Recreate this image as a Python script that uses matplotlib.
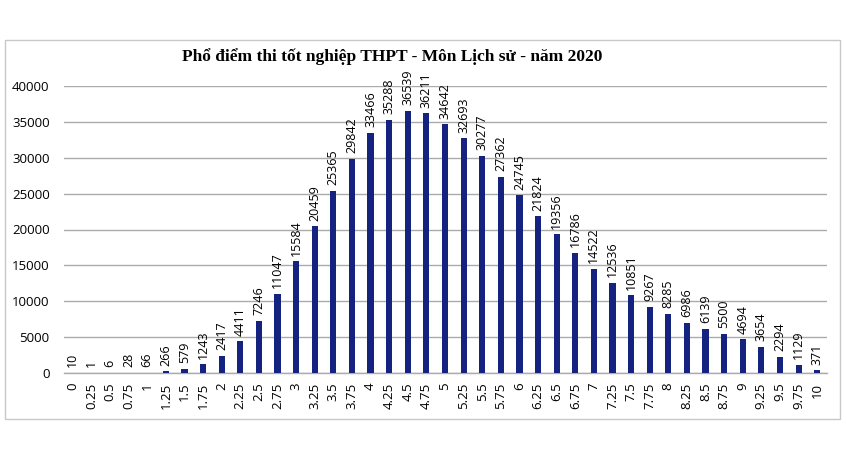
import numpy as np
import matplotlib
matplotlib.use('Agg')
import matplotlib.pyplot as plt
from matplotlib.patches import Rectangle

# score bins and number of candidates
scores = ['0', '0.25', '0.5', '0.75', '1', '1.25', '1.5', '1.75', '2', '2.25',
          '2.5', '2.75', '3', '3.25', '3.5', '3.75', '4', '4.25', '4.5', '4.75',
          '5', '5.25', '5.5', '5.75', '6', '6.25', '6.5', '6.75', '7', '7.25',
          '7.5', '7.75', '8', '8.25', '8.5', '8.75', '9', '9.25', '9.5', '9.75', '10']
counts = [10, 1, 6, 28, 66, 266, 579, 1243, 2417, 4411,
          7246, 11047, 15584, 20459, 25365, 29842, 33466, 35288, 36539, 36211,
          34642, 32693, 30277, 27362, 24745, 21824, 19356, 16786, 14522, 12536,
          10851, 9267, 8285, 6986, 6139, 5500, 4694, 3654, 2294, 1129, 371]
yticks = [0, 5000, 10000, 15000, 20000, 25000, 30000, 35000, 40000]
title = 'Phổ điểm thi tốt nghiệp THPT - Môn Lịch sử - năm 2020'

W, H = 847, 449
fig = plt.figure(figsize=(W / 100, H / 100), dpi=100)
fig.patch.set_facecolor('white')

# outer chart frame
fig.patches.append(Rectangle((5 / W, 1 - 419 / H), 835 / W, 379 / H,
                             transform=fig.transFigure, fill=False,
                             edgecolor='#c8c8c8', linewidth=1))

ax = fig.add_axes([63.5 / W, 1 - 373 / H, 763 / W, 287 / H])
x = np.arange(len(scores))
bars = ax.bar(x, counts, width=0.33, color='#13237f', zorder=3)

for xi, c in zip(x, counts):
    ax.annotate(str(c), (xi, c), xytext=(0, 4), textcoords='offset points',
                rotation=90, ha='center', va='bottom', fontsize=9,
                family='Open Sans', color='black')

ax.set_xlim(-0.5, len(scores) - 0.5)
ax.set_ylim(0, 40000)
ax.set_yticks(yticks)
ax.set_yticklabels([str(v) for v in yticks], family='Open Sans', fontsize=9.5)
ax.set_xticks(x)
ax.set_xticklabels(scores, rotation=90, family='Open Sans', fontsize=9.5)
ax.tick_params(length=0, pad=7)
ax.tick_params(axis='y', pad=10)
ax.grid(axis='y', color='#ababab', linewidth=1, zorder=0)
ax.set_axisbelow(True)
for s in ['top', 'right', 'left']:
    ax.spines[s].set_visible(False)
ax.spines['bottom'].set_color('#ababab')
ax.spines['bottom'].set_linewidth(1)

fig.text(392 / W, 1 - 57 / H, title, ha='center', va='center',
         family='Liberation Serif', fontweight='bold', fontsize=12.5)

fig.savefig('out.png', dpi=100)
